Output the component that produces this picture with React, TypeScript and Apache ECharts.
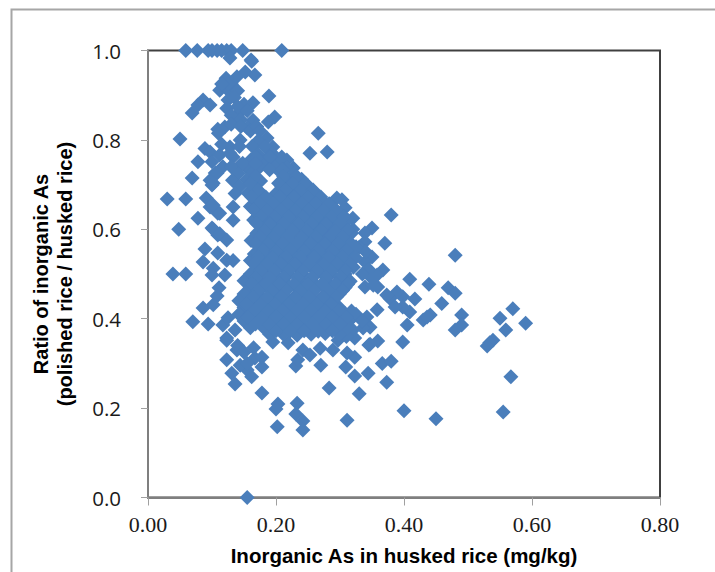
import React, { useEffect, useRef } from "react";
import * as echarts from "echarts";

const xTicks = { min: 0, max: 0.8, interval: 0.2 };
const yTicks = { min: 0, max: 1, interval: 0.2 };
const xTitle = "Inorganic As in husked rice (mg/kg)";
const yTitle = "Ratio of inorganic As\n(polished rice / husked rice)";

const topPoints: number[][] = [
  [0.059,1],[0.077,1],[0.094,1],[0.108,1],[0.123,1],[0.148,1],[0.209,1],[0.1,1],[0.115,1],[0.13,1],
  [0.128,0.983],[0.161,0.979],[0.162,0.976],[0.167,0.945],[0.152,0.952],[0.139,0.941],[0.122,0.938],
  [0.112,0.911],[0.125,0.911],[0.125,0.889],[0.189,0.898],[0.086,0.889],[0.078,0.878],[0.069,0.86],
  [0.097,0.878],[0.164,0.883],[0.123,0.871],[0.144,0.862],[0.136,0.851],[0.198,0.851],[0.188,0.84],
  [0.164,0.844],[0.155,0.827],[0.109,0.824],[0.12,0.829],[0.05,0.802],[0.144,0.8],[0.186,0.804],
  [0.128,0.784],[0.089,0.781],[0.097,0.773],[0.195,0.784],[0.112,0.766],[0.078,0.751],
  [0.17,0.766],[0.209,0.762],[0.1,0.751],[0.227,0.737],[0.069,0.715],[0.105,0.726],[0.097,0.71],
  [0.1,0.699],[0.144,0.744],[0.159,0.733],[0.188,0.747],[0.202,0.751],[0.217,0.755],[0.266,0.815],
  [0.253,0.77],[0.28,0.773],
  [0.13,0.925],[0.14,0.91],[0.135,0.895],[0.13,0.855],[0.145,0.845],[0.15,0.88],[0.14,0.875],
  [0.155,0.865],[0.13,0.835],[0.145,0.83],[0.16,0.82],[0.17,0.83],
  [0.175,0.82],[0.125,0.925],[0.115,0.925],[0.11,0.815],[0.115,0.79],
  [0.117,0.74],[0.108,0.726],[0.133,0.762],[0.102,0.703],
];

const leftPoints: number[][] = [
  [0.03,0.668],[0.059,0.668],[0.048,0.6],[0.039,0.5],[0.059,0.5],[0.091,0.67],[0.078,0.625],[0.097,0.65],
  [0.109,0.636],[0.1,0.603],[0.109,0.587],[0.089,0.556],[0.086,0.527],[0.102,0.513],[0.1,0.498],
  [0.109,0.547],[0.123,0.531],[0.12,0.498],[0.111,0.469],[0.108,0.451],[0.086,0.424],[0.102,0.431],
  [0.07,0.393],[0.094,0.388],[0.117,0.386],[0.125,0.402],[0.123,0.357],[0.136,0.375],
  [0.102,0.654],[0.112,0.636],[0.102,0.6],[0.112,0.59],[0.133,0.65],[0.133,0.62],[0.123,0.576],[0.133,0.53],
];

const lowPoints: number[][] = [
  [0.123,0.352],[0.139,0.33],[0.123,0.308],[0.131,0.278],[0.136,0.254],[0.178,0.292],[0.155,0.285],
  [0.162,0.27],[0.178,0.234],[0.203,0.209],[0.2,0.198],[0.202,0.158],[0.233,0.211],[0.231,0.187],
  [0.242,0.171],[0.242,0.151],[0.283,0.245],[0.311,0.173],[0.33,0.232],[0.373,0.258],[0.4,0.194],
  [0.344,0.278],[0.323,0.272],[0.309,0.292],[0.27,0.296],[0.231,0.294],[0.323,0.314],[0.311,0.323],
  [0.366,0.3],[0.38,0.305],[0.398,0.348],[0.359,0.35],[0.345,0.341],[0.155,0],[0.144,0.296],
  [0.167,0.312],[0.178,0.314],[0.155,0.3],[0.14,0.34],[0.195,0.348],[0.219,0.346],[0.234,0.308],
  [0.242,0.33],[0.253,0.319],[0.269,0.334],[0.289,0.33],[0.297,0.352],[0.15,0.325],[0.165,0.335],
];

const rightPoints: number[][] = [
  [0.48,0.542],[0.409,0.488],[0.439,0.477],[0.469,0.469],[0.48,0.457],[0.417,0.444],[0.398,0.449],
  [0.459,0.434],[0.409,0.415],[0.441,0.408],[0.43,0.397],[0.49,0.408],[0.49,0.386],[0.48,0.375],
  [0.405,0.386],[0.57,0.422],[0.55,0.401],[0.59,0.39],[0.559,0.375],[0.539,0.352],[0.534,0.346],
  [0.53,0.339],[0.567,0.27],[0.45,0.176],[0.555,0.191],[0.38,0.632],[0.295,0.67],[0.303,0.666],
  [0.308,0.648],[0.32,0.625],[0.35,0.603],[0.339,0.592],[0.339,0.572],[0.37,0.569],[0.35,0.538],
  [0.339,0.527],[0.367,0.509],[0.358,0.498],[0.339,0.471],[0.359,0.471],[0.389,0.46],[0.436,0.404],
  [0.319,0.531],[0.311,0.583],[0.378,0.445],[0.373,0.453],[0.352,0.475],[0.398,0.426],
  [0.358,0.42],[0.342,0.404],[0.347,0.381],[0.347,0.343],[0.323,0.357],[0.336,0.379],
  [0.386,0.426],[0.316,0.397],
  [0.32,0.6],[0.33,0.56],[0.34,0.55],[0.345,0.51],[0.335,0.5],[0.35,0.49],
  [0.325,0.41],[0.335,0.395],[0.31,0.39],[0.32,0.375],[0.3,0.37],
  [0.31,0.36],
];

const upperCore: number[][] = [
  [0.172,0.798],[0.143,0.785],[0.163,0.786],[0.183,0.784],
  [0.128,0.77],[0.172,0.768],[0.194,0.77],[0.161,0.756],[0.183,0.753],[0.205,0.755],
  [0.13,0.74],[0.152,0.741],[0.174,0.738],[0.196,0.742],[0.216,0.738],[0.141,0.725],[0.163,0.726],[0.207,0.727],[0.228,0.724],
  [0.132,0.71],[0.154,0.711],[0.176,0.708],[0.22,0.709],[0.24,0.712],[0.143,0.695],[0.165,0.696],[0.209,0.695],[0.231,0.694],[0.25,0.697],
  [0.136,0.68],[0.156,0.681],[0.178,0.678],[0.2,0.68],[0.222,0.679],[0.244,0.682],[0.262,0.68],[0.167,0.666],[0.189,0.663],[0.211,0.665],[0.233,0.664],[0.255,0.667],[0.272,0.665],
  [0.16,0.651],[0.18,0.648],[0.202,0.65],[0.224,0.649],[0.246,0.652],[0.268,0.65],[0.288,0.65],[0.171,0.636],[0.191,0.633],[0.213,0.635],[0.235,0.634],[0.257,0.637],[0.279,0.635],[0.298,0.636],
  [0.165,0.621],[0.185,0.618],[0.205,0.62],[0.227,0.619],[0.249,0.622],[0.271,0.62],[0.293,0.62],[0.312,0.621],[0.176,0.606],[0.196,0.603],[0.218,0.605],[0.24,0.604],[0.262,0.607],[0.284,0.605],[0.304,0.605],
];

const lowerCore: number[][] = [
  [0.17,0.591],[0.19,0.588],[0.21,0.59],[0.232,0.589],[0.254,0.592],[0.276,0.59],[0.298,0.59],[0.318,0.591],[0.161,0.575],[0.181,0.576],[0.201,0.573],[0.223,0.575],[0.245,0.574],[0.267,0.577],[0.289,0.575],[0.309,0.575],
  [0.175,0.561],[0.195,0.558],[0.215,0.56],[0.237,0.559],[0.259,0.562],[0.281,0.56],[0.303,0.56],[0.325,0.561],[0.166,0.545],[0.186,0.546],[0.206,0.543],[0.228,0.545],[0.25,0.544],[0.272,0.547],[0.294,0.545],[0.316,0.545],
  [0.16,0.53],[0.18,0.531],[0.2,0.528],[0.22,0.53],[0.242,0.529],[0.264,0.532],[0.286,0.53],[0.308,0.53],[0.171,0.516],[0.191,0.513],[0.211,0.515],[0.233,0.514],[0.255,0.517],[0.277,0.515],[0.299,0.515],[0.321,0.515],
  [0.16,0.5],[0.18,0.501],[0.2,0.498],[0.22,0.5],[0.242,0.499],[0.264,0.502],[0.286,0.5],[0.308,0.5],[0.15,0.485],[0.171,0.486],[0.191,0.483],[0.211,0.485],[0.233,0.484],[0.255,0.487],[0.277,0.485],[0.299,0.485],[0.316,0.484],
  [0.16,0.47],[0.18,0.471],[0.2,0.468],[0.22,0.47],[0.242,0.469],[0.264,0.472],[0.286,0.47],[0.308,0.47],[0.15,0.455],[0.171,0.456],[0.191,0.453],[0.211,0.455],[0.233,0.454],[0.255,0.457],[0.277,0.455],[0.299,0.455],
  [0.142,0.44],[0.16,0.441],[0.18,0.438],[0.2,0.44],[0.222,0.439],[0.244,0.442],[0.266,0.44],[0.288,0.44],[0.15,0.425],[0.171,0.426],[0.191,0.423],[0.211,0.425],[0.233,0.424],[0.255,0.427],[0.277,0.425],[0.299,0.425],
  [0.142,0.41],[0.16,0.411],[0.18,0.408],[0.2,0.41],[0.222,0.409],[0.244,0.412],[0.266,0.41],[0.288,0.41],[0.308,0.411],[0.15,0.395],[0.171,0.396],[0.191,0.393],[0.211,0.395],[0.233,0.394],[0.255,0.397],[0.277,0.395],[0.299,0.395],
  [0.16,0.38],[0.18,0.381],[0.2,0.378],[0.222,0.38],[0.244,0.379],[0.266,0.382],[0.288,0.38],[0.31,0.378],[0.19,0.365],[0.211,0.366],[0.233,0.363],[0.255,0.365],[0.277,0.367],[0.299,0.365],
];

const upperFill: number[][] = [
  [0.17,0.76],[0.19,0.762],[0.148,0.748],[0.168,0.747],[0.19,0.733],[0.21,0.733],[0.168,0.718],[0.212,0.718],[0.232,0.718],
  [0.16,0.703],[0.204,0.703],[0.226,0.702],[0.246,0.703],[0.172,0.688],[0.216,0.688],[0.238,0.687],[0.258,0.688],
  [0.162,0.673],[0.184,0.672],[0.206,0.673],[0.228,0.672],[0.25,0.673],[0.27,0.672],[0.174,0.658],[0.196,0.657],[0.218,0.658],[0.24,0.657],[0.262,0.658],[0.283,0.657],
  [0.166,0.643],[0.186,0.642],[0.208,0.643],[0.23,0.642],[0.252,0.643],[0.274,0.642],[0.294,0.643],[0.176,0.628],[0.198,0.627],[0.22,0.628],[0.242,0.627],[0.264,0.628],[0.286,0.627],[0.306,0.628],
  [0.17,0.613],[0.19,0.612],[0.212,0.613],[0.234,0.612],[0.256,0.613],[0.278,0.612],[0.3,0.613],[0.182,0.598],[0.204,0.597],[0.226,0.598],[0.248,0.597],[0.27,0.598],[0.292,0.597],[0.312,0.598],
];

const lowerFill: number[][] = [
  [0.175,0.583],[0.196,0.582],[0.218,0.583],[0.24,0.582],[0.262,0.583],[0.284,0.582],[0.304,0.583],[0.168,0.568],[0.188,0.567],[0.21,0.568],[0.232,0.567],[0.254,0.568],[0.276,0.567],[0.298,0.568],[0.318,0.567],
  [0.18,0.553],[0.2,0.552],[0.222,0.553],[0.244,0.552],[0.266,0.553],[0.288,0.552],[0.31,0.553],[0.172,0.538],[0.194,0.537],[0.216,0.538],[0.238,0.537],[0.26,0.538],[0.282,0.537],[0.304,0.538],[0.324,0.537],
  [0.166,0.523],[0.186,0.522],[0.208,0.523],[0.23,0.522],[0.252,0.523],[0.274,0.522],[0.296,0.523],[0.316,0.522],[0.176,0.508],[0.198,0.507],[0.22,0.508],[0.242,0.507],[0.264,0.508],[0.286,0.507],[0.308,0.508],
  [0.168,0.493],[0.19,0.492],[0.212,0.493],[0.234,0.492],[0.256,0.493],[0.278,0.492],[0.3,0.493],[0.162,0.478],[0.184,0.477],[0.206,0.478],[0.228,0.477],[0.25,0.478],[0.272,0.477],[0.294,0.478],[0.312,0.477],
  [0.172,0.463],[0.194,0.462],[0.216,0.463],[0.238,0.462],[0.26,0.463],[0.282,0.462],[0.304,0.463],[0.164,0.448],[0.186,0.447],[0.208,0.448],[0.23,0.447],[0.252,0.448],[0.274,0.447],[0.294,0.448],
  [0.154,0.433],[0.176,0.432],[0.198,0.433],[0.22,0.432],[0.242,0.433],[0.264,0.432],[0.286,0.433],[0.166,0.418],[0.188,0.417],[0.21,0.418],[0.232,0.417],[0.254,0.418],[0.276,0.417],[0.298,0.418],[0.318,0.417],
  [0.156,0.403],[0.178,0.402],[0.2,0.403],[0.222,0.402],[0.244,0.403],[0.266,0.402],[0.288,0.403],[0.31,0.402],[0.168,0.388],[0.19,0.387],[0.212,0.388],[0.234,0.387],[0.256,0.388],[0.278,0.387],[0.3,0.388],
  [0.2,0.373],[0.222,0.372],[0.244,0.373],[0.266,0.372],[0.288,0.373],
];

const points = [...topPoints, ...leftPoints, ...lowPoints, ...rightPoints, ...upperCore, ...lowerCore, ...upperFill, ...lowerFill];

export default function App() {
  const ref = useRef<HTMLDivElement>(null);
  useEffect(() => {
    const chart = echarts.init(ref.current!, undefined, { renderer: "svg" });
    chart.setOption({
      animation: false,
      backgroundColor: "#ffffff",
      grid: { left: 148, top: 50.5, right: 55, bottom: 74.5, show: true, borderColor: "#404040", borderWidth: 2, backgroundColor: "transparent" },
      graphic: [
        { type: "rect", z: -1, shape: { x: 11.5, y: 9.5, width: 900, height: 900 }, style: { fill: "none", stroke: "#a6a6a6", lineWidth: 2 } },
      ],
      xAxis: {
        type: "value", ...xTicks,
        name: xTitle, nameLocation: "middle", nameGap: 47,
        nameTextStyle: { fontFamily: "Liberation Sans", fontWeight: "bold", fontSize: 20.5, color: "#000" },
        splitLine: { show: false },
        axisLine: { show: true, onZero: false, lineStyle: { color: "#7f7f7f", width: 2 } },
        axisTick: { show: true, length: 8, lineStyle: { color: "#a0a0a0", width: 1 } },
        axisLabel: { fontFamily: "Liberation Serif", fontSize: 22, color: "#1a1a1a", margin: 16, formatter: (v: number) => v.toFixed(2) },
      },
      yAxis: {
        type: "value", ...yTicks,
        name: yTitle, nameLocation: "middle", nameGap: 71,
        nameTextStyle: { fontFamily: "Liberation Sans", fontWeight: "bold", fontSize: 20, color: "#000", lineHeight: 24 },
        splitLine: { show: false },
        axisLine: { show: true, onZero: false, lineStyle: { color: "#7f7f7f", width: 2 } },
        axisTick: { show: true, length: 7, lineStyle: { color: "#a0a0a0", width: 1 } },
        axisLabel: { fontFamily: "Open Sans", fontSize: 20.5, color: "#1a1a1a", margin: 27, formatter: (v: number) => v.toFixed(1) },
      },
      series: [{
        type: "scatter", data: points, symbol: "diamond", symbolSize: 15,
        clip: false, z: 5,
        itemStyle: { color: "#4a7ebb", opacity: 1 },
      }],
    });
    return () => chart.dispose();
  }, []);
  return <div ref={ref} style={{ position: "fixed", left: 0, top: 0, width: 715, height: 572 }} />;
}
